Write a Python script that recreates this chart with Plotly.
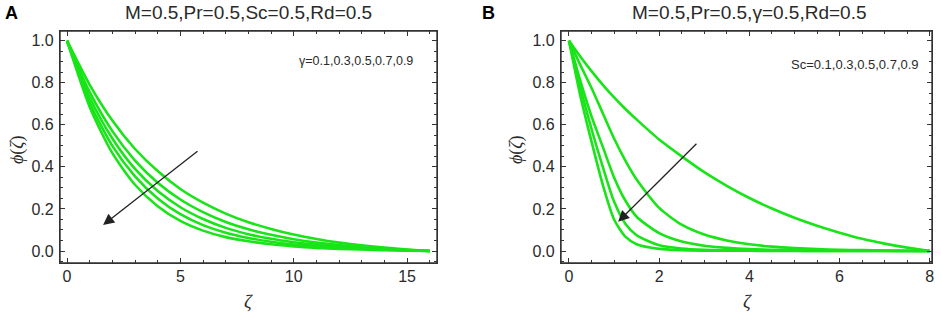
import plotly.graph_objects as go

# ---------------- data ----------------
zeta_A = [0, 1, 2, 3, 4, 5, 6, 7, 8, 9, 10, 11, 12, 13, 14, 15, 16]
gamma_labels = ["0.1", "0.3", "0.5", "0.7", "0.9"]
phi_A_g01 = [1, 0.79, 0.62, 0.485, 0.38, 0.295, 0.23, 0.178, 0.137, 0.105, 0.078, 0.057, 0.04, 0.027, 0.016, 0.007, 0]
phi_A_g03 = [1, 0.755, 0.57, 0.43, 0.325, 0.245, 0.185, 0.138, 0.103, 0.077, 0.056, 0.04, 0.028, 0.018, 0.011, 0.005, 0]
phi_A_g05 = [1, 0.73, 0.535, 0.39, 0.285, 0.208, 0.152, 0.11, 0.08, 0.058, 0.042, 0.03, 0.021, 0.014, 0.008, 0.004, 0]
phi_A_g07 = [1, 0.705, 0.5, 0.355, 0.25, 0.175, 0.123, 0.087, 0.062, 0.044, 0.031, 0.022, 0.015, 0.01, 0.006, 0.003, 0]
phi_A_g09 = [1, 0.685, 0.465, 0.315, 0.213, 0.143, 0.097, 0.066, 0.046, 0.032, 0.022, 0.015, 0.01, 0.007, 0.004, 0.002, 0]

zeta_B = [0, 0.25, 0.5, 0.75, 1.0, 1.25, 1.5, 2.0, 2.5, 3.0, 3.5, 4.0, 4.5, 5.0, 5.5, 6.0, 6.5, 7.0, 7.5, 8.0]
sc_labels = ["0.1", "0.3", "0.5", "0.7", "0.9"]
phi_B_sc01 = [1, 0.925, 0.855, 0.79, 0.73, 0.675, 0.625, 0.53, 0.45, 0.375, 0.31, 0.252, 0.202, 0.158, 0.12, 0.087, 0.058, 0.035, 0.016, 0]
phi_B_sc03 = [1, 0.885, 0.775, 0.655, 0.535, 0.43, 0.34, 0.205, 0.125, 0.078, 0.05, 0.032, 0.021, 0.014, 0.009, 0.006, 0.004, 0.002, 0.001, 0]
phi_B_sc05 = [1, 0.81, 0.64, 0.495, 0.35, 0.24, 0.163, 0.085, 0.045, 0.025, 0.015, 0.009, 0.006, 0.004, 0.003, 0.002, 0.001, 0.001, 0, 0]
phi_B_sc07 = [1, 0.78, 0.58, 0.40, 0.235, 0.13, 0.075, 0.027, 0.012, 0.006, 0.004, 0.002, 0.001, 0.001, 0, 0, 0, 0, 0, 0]
phi_B_sc09 = [1, 0.74, 0.52, 0.315, 0.15, 0.068, 0.032, 0.01, 0.004, 0.002, 0.001, 0.001, 0, 0, 0, 0, 0, 0, 0, 0]

series_A = [phi_A_g01, phi_A_g03, phi_A_g05, phi_A_g07, phi_A_g09]
series_B = [phi_B_sc01, phi_B_sc03, phi_B_sc05, phi_B_sc07, phi_B_sc09]

GREEN = "rgb(24,228,24)"
FRAME = "#333333"
TXT = "#2a2a2a"
FONT = "Liberation Sans, Arial, sans-serif"

fig = go.Figure()
for lab, ys in zip(gamma_labels, series_A):
    fig.add_trace(go.Scatter(x=zeta_A, y=ys, mode="lines", name="γ=" + lab,
                             line=dict(color=GREEN, width=2.6, shape="spline", smoothing=0.7),
                             xaxis="x", yaxis="y", showlegend=False))
for lab, ys in zip(sc_labels, series_B):
    fig.add_trace(go.Scatter(x=zeta_B, y=ys, mode="lines", name="Sc=" + lab,
                             line=dict(color=GREEN, width=2.6, shape="spline", smoothing=0.7),
                             xaxis="x2", yaxis="y2", showlegend=False))

W, H = 941, 319
ml, mr, mt, mb = 60, 9, 31, 56
pw = W - ml - mr
ph = H - mt - mb
xA = [0, (437 - ml) / pw]
xB = [(561 - ml) / pw, 1]

axis_common = dict(showline=True, mirror="ticks", linecolor=FRAME, linewidth=1.2,
                   ticks="inside", ticklen=5, tickcolor=FRAME, tickwidth=1,
                   showgrid=False, zeroline=False, automargin=False,
                   ticklabeloverflow="allow",
                   tickfont=dict(family=FONT, size=16, color=TXT))

yticks = [0.0, 0.2, 0.4, 0.6, 0.8, 1.0]
ytext = ["0.0", "0.2", "0.4", "0.6", "0.8", "1.0"]

fig.update_layout(
    width=W, height=H,
    margin=dict(l=ml, r=mr, t=mt, b=mb, autoexpand=False),
    paper_bgcolor="white", plot_bgcolor="white",
    xaxis=dict(domain=xA, range=[-0.31, 16.32], tickvals=[0, 5, 10, 15],
               ticklabelstandoff=-1,
               minor=dict(ticks="inside", ticklen=3, dtick=1, tickcolor=FRAME),
               anchor="y", **axis_common),
    yaxis=dict(domain=[0, 1], range=[-0.057, 1.046], tickvals=yticks, ticktext=ytext,
               ticklabelstandoff=2,
               minor=dict(ticks="inside", ticklen=3, dtick=0.05, tickcolor=FRAME),
               anchor="x", **axis_common),
    xaxis2=dict(domain=xB, range=[-0.177, 8.05], tickvals=[0, 2, 4, 6, 8],
                ticklabelstandoff=-1,
                minor=dict(ticks="inside", ticklen=3, dtick=0.5, tickcolor=FRAME),
                anchor="y2", **axis_common),
    yaxis2=dict(domain=[0, 1], range=[-0.057, 1.046], tickvals=yticks, ticktext=ytext,
                ticklabelstandoff=2,
                minor=dict(ticks="inside", ticklen=3, dtick=0.05, tickcolor=FRAME),
                anchor="x2", **axis_common),
)

# frames drawn explicitly
shapes = []
for xr, yr in (("x domain", "y domain"), ("x2 domain", "y2 domain")):
    shapes.append(dict(type="rect", xref=xr, yref=yr, x0=0, x1=1, y0=0, y1=1,
                       line=dict(color=FRAME, width=1.4), fillcolor="rgba(0,0,0,0)", layer="above"))


def px_to_paper_x(px):
    return (px - ml) / pw


def py_to_paper_y(py):
    return (H - mb - py) / ph


ann = []
# panel letters
ann.append(dict(text="<b>A</b>", x=px_to_paper_x(11), y=py_to_paper_y(13), xref="paper", yref="paper",
                showarrow=False, font=dict(family=FONT, size=18, color="black"),
                xanchor="center", yanchor="middle"))
ann.append(dict(text="<b>B</b>", x=px_to_paper_x(488), y=py_to_paper_y(13), xref="paper", yref="paper",
                showarrow=False, font=dict(family=FONT, size=18, color="black"),
                xanchor="center", yanchor="middle"))
# titles
ann.append(dict(text="M=0.5,Pr=0.5,Sc=0.5,Rd=0.5", x=px_to_paper_x(248), y=py_to_paper_y(13),
                xref="paper", yref="paper", showarrow=False, xanchor="center", yanchor="middle",
                font=dict(family=FONT, size=19, color=TXT)))
ann.append(dict(text="M=0.5,Pr=0.5,γ=0.5,Rd=0.5", x=px_to_paper_x(749), y=py_to_paper_y(13),
                xref="paper", yref="paper", showarrow=False, xanchor="center", yanchor="middle",
                font=dict(family=FONT, size=19, color=TXT)))
# axis titles
for cx in (248, 747):
    ann.append(dict(text="<i>ζ</i>", x=px_to_paper_x(cx), y=py_to_paper_y(301),
                    xref="paper", yref="paper", showarrow=False, xanchor="center", yanchor="middle",
                    font=dict(family="Liberation Serif, serif", size=19, color=TXT)))
for cx in (17, 516):
    ann.append(dict(text="<i>ϕ</i>(<i>ζ</i>)", x=px_to_paper_x(cx), y=py_to_paper_y(150),
                    xref="paper", yref="paper", showarrow=False, xanchor="center", yanchor="middle",
                    textangle=-90, font=dict(family="Liberation Serif, serif", size=18, color=TXT)))
# parameter labels
ann.append(dict(text="γ=0.1,0.3,0.5,0.7,0.9", x=px_to_paper_x(356), y=py_to_paper_y(61),
                xref="paper", yref="paper", showarrow=False, xanchor="center", yanchor="middle",
                font=dict(family=FONT, size=12.5, color=TXT)))
ann.append(dict(text="Sc=0.1,0.3,0.5,0.7,0.9", x=px_to_paper_x(855), y=py_to_paper_y(64),
                xref="paper", yref="paper", showarrow=False, xanchor="center", yanchor="middle",
                font=dict(family=FONT, size=13, color=TXT)))
# arrows (data coordinates)
ann.append(dict(x=1.59, y=0.124, ax=5.82, ay=0.48, xref="x", yref="y", axref="x", ayref="y",
                text="", showarrow=True, arrowhead=2, arrowsize=1.7, arrowwidth=1.3, arrowcolor="#222"))
ann.append(dict(x=1.09, y=0.139, ax=2.86, ay=0.517, xref="x2", yref="y2", axref="x2", ayref="y2",
                text="", showarrow=True, arrowhead=2, arrowsize=1.7, arrowwidth=1.3, arrowcolor="#222"))

fig.update_layout(annotations=ann, shapes=shapes)
fig.write_html("out.html",
               config={"displayModeBar": False},
               post_script="document.body.style.margin='0';document.body.style.padding='0';"
                           "document.body.style.overflow='hidden';")
